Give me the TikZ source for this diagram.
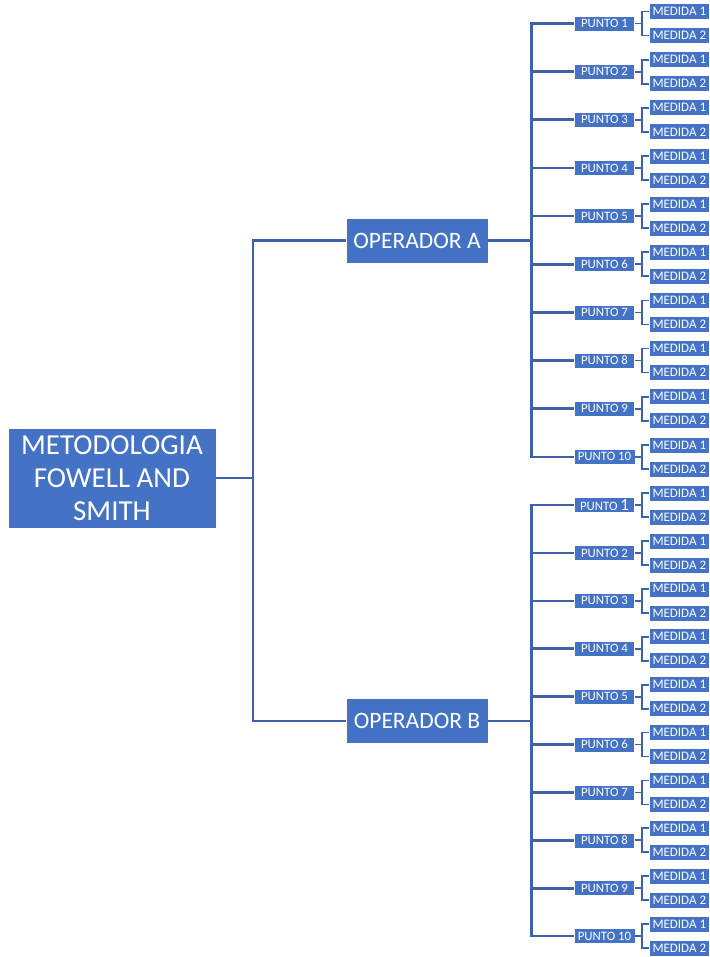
\documentclass[tikz,border=0pt]{standalone}
\usepackage{fontspec}
\setmainfont{Carlito}
\usetikzlibrary{positioning}
\definecolor{azul}{HTML}{4472C4}
\definecolor{linea}{HTML}{3D61AA}

\begin{document}
\begin{tikzpicture}[x=1pt,y=-1pt]
        \tikzstyle{caja}=[fill=azul,draw=white,line width=0.6pt,text=white,inner sep=0pt]
        \tikzstyle{raiz}=[caja,minimum width=208pt,minimum height=100pt,align=center,font=\fontsize{29}{33}\selectfont]
        \tikzstyle{oper}=[caja,minimum width=142pt,minimum height=45pt,font=\fontsize{23.5}{26}\selectfont]
        \tikzstyle{punto}=[caja,minimum width=60pt,minimum height=15pt,inner xsep=4pt,font=\fontsize{12.8}{13}\selectfont]
        \tikzstyle{medida}=[caja,minimum width=60pt,minimum height=16pt,anchor=west,font=\fontsize{13}{13}\selectfont]
        \tikzstyle{rama}=[draw=linea,line width=2.6pt]
        \tikzstyle{hoja}=[draw=linea,line width=1.8pt]
        \useasboundingbox (0,0) rectangle (709,957);
        \node[raiz] (met) at (112,478) {METODOLOGIA\\FOWELL AND\\SMITH};
        \node[oper] (opA) at (417,240.5) {OPERADOR A};
        \node[oper] (opB) at (417,721) {OPERADOR B};
        \coordinate (nudo) at (253,478);
        \draw[rama] (met.east) -- (nudo);
        \draw[rama] (opA.west) -| (nudo) |- (opB.west);
        \foreach \op/\ini/\paso/\uno in {A/23.5/48.15/1,B/505/47.9/{\fontsize{17}{13}\selectfont 1}}{
            \path (op\op.east) ++(43,0) coordinate (c\op);
            \draw[rama] (op\op.east) -- (c\op);
            \foreach \i in {1,...,10}{
                \pgfmathsetmacro\yy{\ini+(\i-1)*\paso}
                \ifnum\i=1 \def\num{\uno}\else\def\num{\i}\fi
                \node[punto] (p\op\i) at (604.5,\yy) {PUNTO \num};
                \node[medida] (m\op\i u) at (649,\yy-12) {MEDIDA 1};
                \node[medida] (m\op\i d) at (649,\yy+12) {MEDIDA 2};
                \coordinate (l\op\i) at (642,\yy);
                \draw[rama] (c\op) |- (p\op\i.west);
                \draw[hoja] (p\op\i.east) -- (l\op\i);
                \draw[hoja] (m\op\i u.west) -| (l\op\i) |- (m\op\i d.west);
            }
        }
\end{tikzpicture}
\end{document}
